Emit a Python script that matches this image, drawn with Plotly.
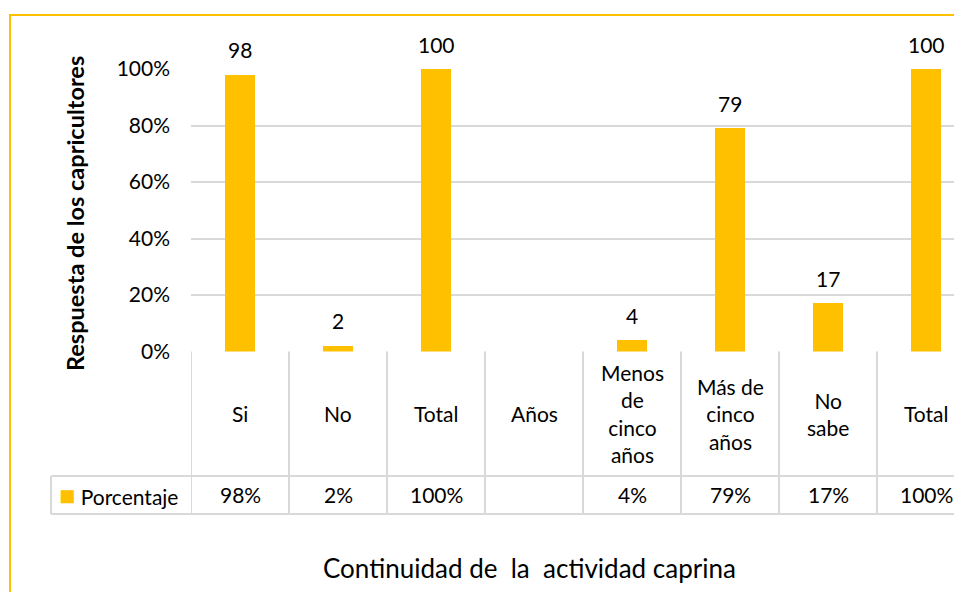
import plotly.graph_objects as go

# ── Data ─────────────────────────────────────────────────────────────────────

categories = ["Si", "No", "Total", "Años", "Menos<br>de<br>cinco<br>años",
              "Más de<br>cinco<br>años", "No<br>sabe", "Total"]
porcentaje = [98, 2, 100, None, 4, 79, 17, 100]
series_name = "Porcentaje"
y_ticks = [0, 0.2, 0.4, 0.6, 0.8, 1.0]
y_title = "Respuesta de los capricultores"
x_title = "Continuidad de\u00a0 la\u00a0 actividad caprina"

# ── Layout helpers (screen pixel -> paper) ───────────────────────────────────
# page body keeps its default 8px margin, so the figure is sized to fit

SCREEN_W, SCREEN_H, BODY = 962, 600, 8
W, H = SCREEN_W - 2 * BODY, SCREEN_H - 2 * BODY
GOLD = "#FFC000"
GRID = "#D9D9D9"
FONT = "Lato"


def px(x):
    return (x - BODY) / W


def py(y):
    return 1 - (y - BODY) / H


x_pos = list(range(len(categories)))
y_vals = [None if v is None else v / 100 for v in porcentaje]

fig = go.Figure()
fig.add_trace(go.Bar(
    x=x_pos, y=y_vals, name=series_name,
    marker=dict(color=GOLD, line=dict(width=0)),
    width=0.306, showlegend=False, hoverinfo="skip",
))

# data labels above bars
for i, v in enumerate(porcentaje):
    if v is None:
        continue
    fig.add_annotation(
        x=i, y=v / 100, xref="x", yref="y", text=str(v), showarrow=False,
        yanchor="middle", yshift=25, font=dict(size=21, color="#000"),
    )

# ── Data table under the axis ────────────────────────────────────────────────

top_y, mid_y, bot_y = 351.5, 476, 514
shapes = []
for i in range(len(categories) + 1):
    shapes.append(dict(
        type="line", xref="x", yref="paper", x0=i - 0.5, x1=i - 0.5,
        y0=py(top_y), y1=py(bot_y), line=dict(color=GRID, width=2),
    ))
for yy in (mid_y, bot_y):
    shapes.append(dict(
        type="line", xref="paper", yref="paper", x0=px(51), x1=1.02,
        y0=py(yy), y1=py(yy), line=dict(color=GRID, width=2),
    ))
shapes.append(dict(
    type="line", xref="paper", yref="paper", x0=px(51), x1=px(51),
    y0=py(mid_y), y1=py(bot_y), line=dict(color=GRID, width=2),
))
# outer chart frame
shapes.append(dict(
    type="rect", xref="paper", yref="paper", x0=px(10), x1=1.05,
    y0=-0.05, y1=py(15), line=dict(color=GOLD, width=2), layer="below",
))

for i, (cat, v) in enumerate(zip(categories, porcentaje)):
    fig.add_annotation(
        x=i, y=py((top_y + mid_y) / 2), xref="x", yref="paper", text=cat,
        showarrow=False, xanchor="center", yanchor="middle",
        font=dict(size=21, color="#000"),
    )
    fig.add_annotation(
        x=i, y=py((mid_y + bot_y) / 2), xref="x", yref="paper",
        text="" if v is None else f"{v}%",
        showarrow=False, xanchor="center", yanchor="middle",
        font=dict(size=21, color="#000"),
    )

# legend key cell
fig.add_annotation(
    x=px(57), y=py(495), xref="paper", yref="paper", xanchor="left",
    yanchor="middle", showarrow=False,
    text=f"<span style='color:{GOLD};font-size:27px'>■</span> {series_name}",
    font=dict(size=21, color="#000"),
)

# axis titles
fig.add_annotation(
    x=px(75), y=py(214), xref="paper", yref="paper", text=f"<b>{y_title}</b>",
    textangle=-90, showarrow=False, xanchor="center", yanchor="middle",
    font=dict(size=23.5, color="#000"),
)
fig.add_annotation(
    x=px(529), y=py(568), xref="paper", yref="paper", text=x_title,
    showarrow=False, xanchor="center", yanchor="middle",
    font=dict(size=26, color="#000"),
)

fig.update_layout(
    width=W, height=H, margin=dict(l=0, r=0, t=0, b=0, autoexpand=False),
    paper_bgcolor="white", plot_bgcolor="white",
    font=dict(family=FONT, size=21, color="#000"),
    shapes=shapes, bargap=0,
    xaxis=dict(
        domain=[px(191), 1], range=[-0.5, 7.5 - (191 + 8 * 98 - SCREEN_W + BODY) / 98],
        showticklabels=False, showgrid=False, zeroline=False, showline=False,
        fixedrange=True, automargin=False,
    ),
    yaxis=dict(
        domain=[py(top_y), py(69)], range=[0, 1.0],
        tickvals=y_ticks, tickformat=".0%", ticklabelstandoff=20,
        showgrid=True, gridcolor=GRID, gridwidth=2,
        zeroline=False, showline=False, fixedrange=True, automargin=False,
    ),
)

fig.write_html("out.html")
